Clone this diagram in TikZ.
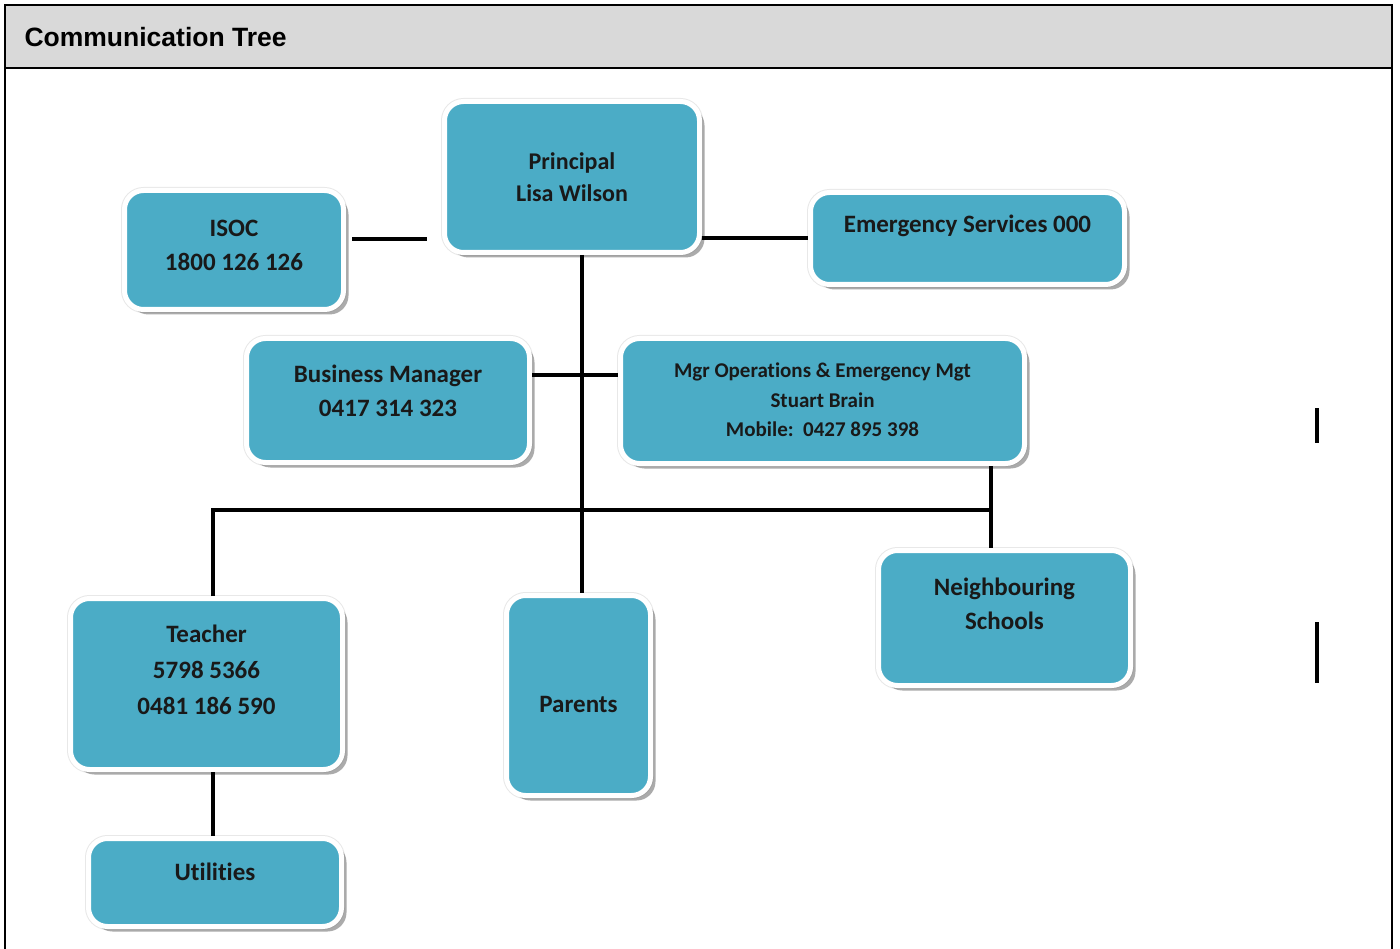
\documentclass[tikz,border=0pt]{standalone}
\usepackage{fontspec}
\setmainfont{Carlito}[Ligatures=NoCommon]
\newfontfamily\headfont{Liberation Sans}
\usetikzlibrary{shadows}
\definecolor{boxteal}{RGB}{75,172,198}
\definecolor{headgrey}{RGB}{217,217,217}
\tikzset{
  box/.style={rounded corners=19pt, fill=boxteal, draw=white, line width=5pt, inner sep=0pt,
    preaction={draw=black!9, line width=7pt},
    drop shadow={shadow xshift=5pt, shadow yshift=-5pt, fill=black!55, opacity=0.6}},
  txt/.style={font=\bfseries\fontsize{25}{34}\selectfont, align=center, text=black!90},
  link/.style={line width=4pt, black}
}

\begin{document}
\begin{tikzpicture}[x=1pt, y=-1pt]
    \useasboundingbox (0,0) rectangle (1400,949);
    % frame and title bar
    \fill[headgrey] (5,5) rectangle (1392,68);
    \draw[line width=2pt] (5,949) |- (1392,5) -- (1392,949);
    \draw[line width=2pt] (5,68) -- (1392,68);
    \node[anchor=base west, font=\headfont\bfseries\fontsize{26.5}{30}\selectfont] (title) at (21,47) {Communication Tree};

    % boxes
    \node[box, minimum width=255pt, minimum height=151pt,
      label={[txt, font=\bfseries\fontsize{24}{32}\selectfont]center:{Principal\\Lisa Wilson}}] (princ) at (572,177) {};
    \node[box, minimum width=219pt, minimum height=119pt,
      label={[txt, yshift=5pt]center:{ISOC\\1800 126 126}}] (isoc) at (234,250) {};
    \node[box, minimum width=314pt, minimum height=92pt,
      label={[txt, yshift=13pt]center:{Emergency Services 000}}] (emerg) at (967.5,238.5) {};
    \node[box, minimum width=283pt, minimum height=124pt,
      label={[txt, yshift=10pt]center:{Business Manager\\0417 314 323}}] (busmgr) at (388,400.5) {};
    \node[box, minimum width=404pt, minimum height=125pt,
      label={[txt, font=\bfseries\fontsize{21}{29.5}\selectfont, yshift=1pt]center:{Mgr Operations \& Emergency Mgt\\Stuart Brain\\Mobile:\ \ 0427 895 398}}] (mgrops) at (822.5,401) {};
    \node[box, minimum width=272pt, minimum height=171pt,
      label={[txt, font=\bfseries\fontsize{25}{36}\selectfont, yshift=14pt]center:{Teacher\\5798 5366\\0481 186 590}}] (teacher) at (206.5,684) {};
    \node[box, minimum width=144pt, minimum height=200pt,
      label={[txt, yshift=-9pt]center:{Parents}}] (parents) at (578.5,695.5) {};
    \node[box, minimum width=252pt, minimum height=135pt,
      label={[txt, yshift=14pt]center:{Neighbouring\\Schools}}] (neigh) at (1004.5,618) {};
    \node[box, minimum width=253pt, minimum height=88pt,
      label={[txt, yshift=11pt]center:{Utilities}}] (util) at (215,882.5) {};

    % connectors
    \coordinate (isocR) at (352,239);
    \coordinate (princL) at (427,239);
    \coordinate (tr) at (582,375);
    \coordinate (tj) at (213,510);
    \coordinate (nj) at (991,510);
    \draw[link] (isocR) -- (princL);
    \draw[link] (princ.east |- emerg.west) -- (emerg.west);
    \draw[link] (princ.south -| tr) -- (parents.north -| tr);
    \draw[link] (busmgr.east |- tr) -- (mgrops.west |- tr);
    \draw[link] (teacher.north -| tj) -- (tj) -- (nj);
    \draw[link] (mgrops.south -| nj) -- (neigh.north -| nj);
    \draw[link] (teacher.south -| tj) -- (util.north -| tj);

    % stray marks on the right
    \draw[link] (1317,408) -- (1317,443);
    \draw[link] (1317,622) -- (1317,683);
\end{tikzpicture}
\end{document}
